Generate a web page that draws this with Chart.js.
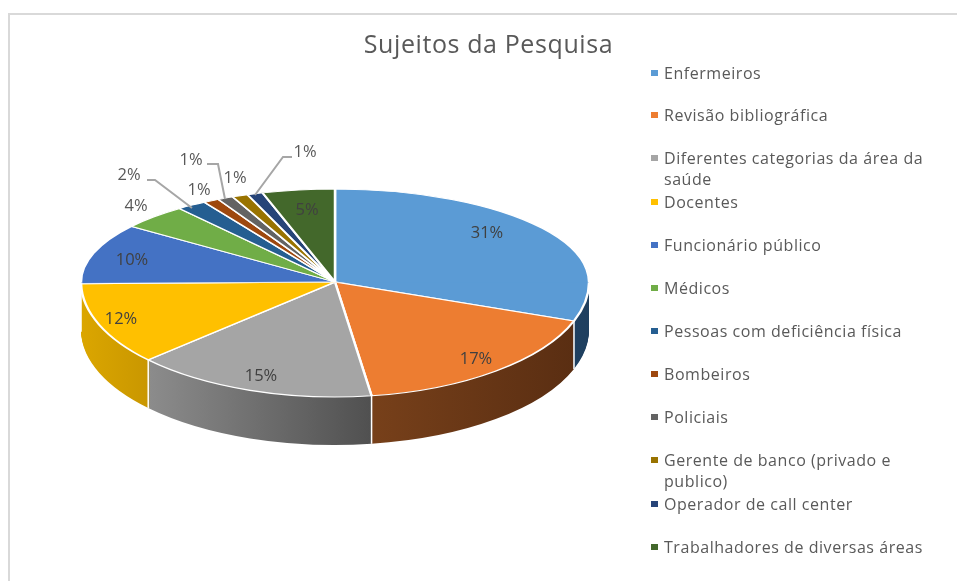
<!DOCTYPE html>
<html>
<head>
<meta charset="utf-8">
<title>Sujeitos da Pesquisa</title>
<script src="https://cdn.jsdelivr.net/npm/chart.js@4/dist/chart.umd.js"></script>
<style>
    html, body { margin: 0; padding: 0; background: #fff; }
    #wrap { position: relative; width: 957px; height: 581px; overflow: hidden; }
    #frame { position: absolute; left: 8px; top: 13px; width: 980px; height: 600px; border: 2px solid #d9d9d9; }
    canvas { position: absolute; left: 0; top: 0; }
</style>
</head>
<body>
<div id="wrap">
    <div id="frame"></div>
    <canvas id="pieChart" width="957" height="581"></canvas>
</div>
<script>
// dados do gráfico (estimados pelo ângulo das fatias; os rótulos arredondam)
const titleText = 'Sujeitos da Pesquisa';
const categories = ['Enfermeiros', 'Revisão bibliográfica', 'Diferentes categorias da área da saúde', 'Docentes',
    'Funcionário público', 'Médicos', 'Pessoas com deficiência física', 'Bombeiros', 'Policiais',
    'Gerente de banco (privado e publico)', 'Operador de call center', 'Trabalhadores de diversas áreas'];
const percentages = [30.5, 17.2, 15.45, 11.6, 10.45, 4.3, 1.9, 1, 1, 1, 1, 4.6];
const topColors = ['#5b9bd5', '#ed7d31', '#a5a5a5', '#ffc000', '#4472c4', '#70ad47', '#255e91', '#9e480e', '#636363', '#997300', '#264478', '#43682b'];
// cor da lateral: esquerda -> direita
const wallColors = [['#1f4e79', '#1f3f5f'], ['#77401a', '#5a2e12'], ['#8c8c8c', '#505050'], ['#dba600', '#c99700'],
    ['#2f5597', '#2f5597'], ['#4e7a32', '#4e7a32'], ['#1a4266', '#1a4266'], ['#6e320a', '#6e320a'],
    ['#454545', '#454545'], ['#6b5000', '#6b5000'], ['#1a3054', '#1a3054'], ['#2f491e', '#2f491e']];

// geometria do "3D"
const PIE_X = 335, PIE_Y = 282, RX = 254, RY_TOP = 93, RY_BOTTOM = 115, DEPTH = 48;

// posição dos rótulos e linhas de chamada (tela)
const labelPos = [[487, 233], [476, 359], [261, 376], [121, 319], [132, 260], [136, 206],
    [129, 175], [199, 190], [191, 160], [235, 178], [305, 152], [307, 210]];
const leaders = {
    6: [[147, 180], [155, 180], [192, 208]],
    8: [[207, 164], [218, 164], [225, 199]],
    10: [[292, 157], [283, 157], [255, 195]]
};
const legendX = 651, legendTextX = 664;
const legendY = [73, 115, 158, 202, 245, 288, 331, 374, 417, 460, 504, 547];
const legendLines = categories.map(c => {
    if (c.startsWith('Diferentes')) return ['Diferentes categorias da área da', 'saúde'];
    if (c.startsWith('Gerente')) return ['Gerente de banco (privado e', 'publico)'];
    return [c];
});

const FONT = '"Open Sans", "Noto Sans", sans-serif';

function drawPieLayer(chart, ctx, clipTop, clipBottom, ry, dy, colorFor) {
    const arcs = chart.getDatasetMeta(0).data;
    const { x: cx, y: cy, outerRadius: r } = arcs[0];
    ctx.save();
    ctx.beginPath();
    ctx.rect(0, clipTop, chart.width, clipBottom - clipTop);
    ctx.clip();
    ctx.translate(PIE_X, PIE_Y + dy);
    ctx.scale(RX / r, ry / r);
    ctx.translate(-cx, -cy);
    arcs.forEach((arc, i) => {
        const saved = arc.options;
        const fill = colorFor ? colorFor(i, arc, cx, r) : saved.backgroundColor;
        arc.options = Object.assign({}, saved, { backgroundColor: fill, borderWidth: colorFor ? 0 : saved.borderWidth });
        arc.draw(ctx);
        arc.options = saved;
    });
    ctx.restore();
}

// achata a pizza e desenha a lateral
const pie3d = {
    id: 'pie3d',
    beforeDraw(chart) {
        chart.ctx.letterSpacing = '0.6px';
    },
    beforeDatasetsDraw(chart) {
        const ctx = chart.ctx;
        ctx.letterSpacing = '0px';
        const arcs = chart.getDatasetMeta(0).data;
        const wallFill = (i, arc, cx, r) => {
            // gradiente horizontal na fatia, em coordenadas locais do arco
            const a0 = Math.max(arc.startAngle, -Math.PI / 2), a1 = arc.endAngle;
            const xs = [Math.cos(a0), Math.cos(a1)];
            if (a0 < 0 && a1 > 0) xs.push(1);
            if (a0 < Math.PI && a1 > Math.PI) xs.push(-1);
            const g = ctx.createLinearGradient(cx + Math.min(...xs) * r, 0, cx + Math.max(...xs) * r, 0);
            g.addColorStop(0, wallColors[i][0]);
            g.addColorStop(1, wallColors[i][1]);
            return g;
        };
        for (let d = DEPTH; d >= 1; d--) {
            drawPieLayer(chart, ctx, PIE_Y + d - 1, chart.height, RY_BOTTOM, d, wallFill);
        }
        // costuras brancas da lateral
        ctx.save();
        ctx.strokeStyle = '#fff';
        ctx.lineWidth = 1.5;
        arcs.forEach(arc => {
            const sx = PIE_X + Math.cos(arc.endAngle) * RX;
            const sy = PIE_Y + Math.sin(arc.endAngle) * RY_BOTTOM;
            if (Math.sin(arc.endAngle) > 0) {
                ctx.beginPath();
                ctx.moveTo(sx, sy);
                ctx.lineTo(sx, sy + DEPTH);
                ctx.stroke();
            }
        });
        ctx.restore();
        drawPieLayer(chart, ctx, PIE_Y, chart.height, RY_BOTTOM, 0);
        drawPieLayer(chart, ctx, 0, PIE_Y + 0.5, RY_TOP, 0);
        return false;
    },
    afterDraw(chart) {
        const ctx = chart.ctx;
        ctx.save();
        // linhas de chamada
        ctx.strokeStyle = '#a6a6a6';
        ctx.lineWidth = 2;
        Object.values(leaders).forEach(pts => {
            ctx.beginPath();
            pts.forEach((p, k) => k ? ctx.lineTo(p[0], p[1]) : ctx.moveTo(p[0], p[1]));
            ctx.stroke();
        });
        // rótulos
        ctx.textAlign = 'center';
        ctx.textBaseline = 'middle';
        ctx.font = '16.5px ' + FONT;
        percentages.forEach((v, i) => {
            ctx.fillStyle = (i === 11 || i < 5) ? '#404040' : '#595959';
            ctx.fillText(Math.round(v) + '%', labelPos[i][0], labelPos[i][1]);
        });
        // legenda
        ctx.textAlign = 'left';
        ctx.font = '16px ' + FONT;
        ctx.letterSpacing = '0.55px';
        categories.forEach((c, i) => {
            ctx.fillStyle = topColors[i];
            ctx.fillRect(legendX, legendY[i] - 3, 7, 6);
            ctx.fillStyle = '#595959';
            legendLines[i].forEach((t, k) => ctx.fillText(t, legendTextX, legendY[i] + 1 + k * 21));
        });
        ctx.restore();
    }
};

new Chart(document.getElementById('pieChart'), {
    type: 'pie',
    data: {
        labels: categories,
        datasets: [{
            data: percentages,
            backgroundColor: topColors,
            borderColor: '#ffffff',
            borderWidth: 2.5
        }]
    },
    options: {
        responsive: false,
        animation: false,
        layout: { padding: { left: 20 } },
        plugins: {
            legend: { display: false },
            tooltip: { enabled: false },
            title: {
                display: true,
                text: titleText,
                color: '#595959',
                font: { family: FONT, size: 25, weight: 'normal' },
                padding: { top: 31, bottom: 10 }
            }
        }
    },
    plugins: [pie3d]
});
</script>
</body>
</html>
